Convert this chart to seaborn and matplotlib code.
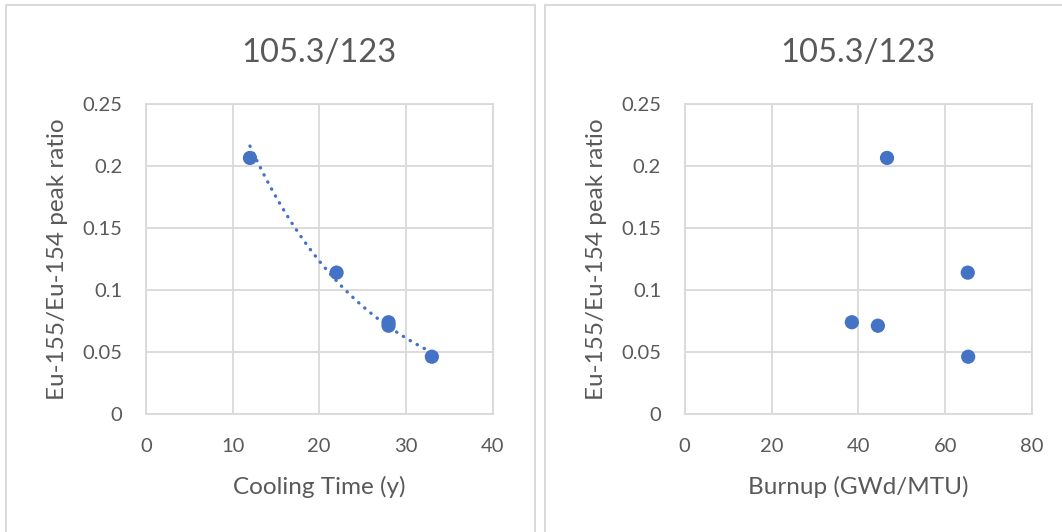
import numpy as np
import pandas as pd
import matplotlib
matplotlib.use("Agg")
import matplotlib.pyplot as plt
from matplotlib.patches import Rectangle
import seaborn as sns

# ---- data ----
cooling_time = [12, 22, 28, 28, 33]             # years
burnup = [46.6, 65.2, 38.5, 44.5, 65.3]          # GWd/MTU
peak_ratio = [0.2065, 0.114, 0.074, 0.0712, 0.0462]
titles = ["105.3/123", "105.3/123"]
x_labels = ["Cooling Time (y)", "Burnup (GWd/MTU)"]
y_label = "Eu-155/Eu-154 peak ratio"
x_ticks_left = [0, 10, 20, 30, 40]
x_ticks_right = [0, 20, 40, 60, 80]
y_ticks = [0, 0.05, 0.1, 0.15, 0.2, 0.25]
y_tick_labels = ["0", "0.05", "0.1", "0.15", "0.2", "0.25"]

df = pd.DataFrame({"ct": cooling_time, "bu": burnup, "ratio": peak_ratio})

# exponential trendline (Excel style) over the data range
b, a = np.polyfit(df["ct"], np.log(df["ratio"]), 1)
xt = np.linspace(min(cooling_time), max(cooling_time), 100)
trend = pd.DataFrame({"x": xt, "y": np.exp(a) * np.exp(b * xt)})

sns.set_theme(style="white")
plt.rcParams["font.family"] = ["Lato", "DejaVu Sans"]

BLUE = "#4472C4"
GRID = "#d9d9d9"
TXT = "#595959"

W, H = 1062, 532
fig = plt.figure(figsize=(W / 100, H / 100), dpi=100)

# chart panel borders
fig.add_artist(Rectangle((6 / W, -0.05), (535 - 6) / W, 1.05 - 5 / H,
                         transform=fig.transFigure, fill=False, ec=GRID, lw=1.4))
fig.add_artist(Rectangle((545 / W, -0.05), (1070 - 545) / W, 1.05 - 5 / H,
                         transform=fig.transFigure, fill=False, ec=GRID, lw=1.4))

def make_ax(x0, x1):
    return fig.add_axes([x0 / W, (H - 414) / H, (x1 - x0) / W, 310 / H])

ax1 = make_ax(146, 492.5)
ax2 = make_ax(684.7, 1032)

LABEL_FS = 17.5

for ax, xcol, xt_, xlab, title in [
    (ax1, "ct", x_ticks_left, x_labels[0], titles[0]),
    (ax2, "bu", x_ticks_right, x_labels[1], titles[1]),
]:
    sns.scatterplot(data=df, x=xcol, y="ratio", ax=ax, color=BLUE, s=105,
                    edgecolor="none", zorder=3)
    ax.set_xlim(xt_[0], xt_[-1])
    ax.set_ylim(0, 0.25)
    ax.set_xticks(xt_)
    ax.set_xticklabels([str(v) for v in xt_])
    ax.set_yticks(y_ticks)
    ax.set_yticklabels(y_tick_labels)
    ax.grid(True, color=GRID, lw=1.3)
    ax.set_axisbelow(True)
    for s in ax.spines.values():
        s.set_color(GRID)
        s.set_linewidth(1.3)
    ax.tick_params(axis="both", length=0, labelsize=14.5, colors=TXT)
    ax.tick_params(axis="x", pad=17.5)
    ax.tick_params(axis="y", pad=17)

sns.lineplot(data=trend, x="x", y="y", ax=ax1, color=BLUE, lw=2.4,
             linestyle=(0, (0.1, 2.3)), dash_capstyle="round", zorder=2)

for ax, xlab, title in [(ax1, x_labels[0], titles[0]), (ax2, x_labels[1], titles[1])]:
    ax.set_xlabel(xlab, fontsize=LABEL_FS, color=TXT, labelpad=15)
    ax.set_ylabel(y_label, fontsize=LABEL_FS, color=TXT, labelpad=10)
    ax.set_title(title, fontsize=23.5, color=TXT, pad=30)

fig.savefig("out.png", dpi=100, facecolor="white")
